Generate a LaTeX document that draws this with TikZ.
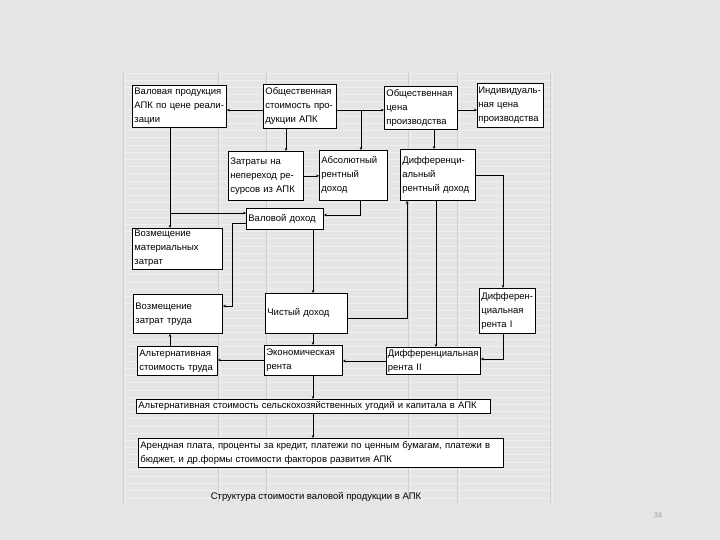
\documentclass[tikz,border=0pt]{standalone}
\usepackage{fontspec}
\setmainfont{Liberation Sans}
\definecolor{pagegray}{HTML}{E5E5E5}
\definecolor{gridlight}{HTML}{EFEFEF}
\definecolor{griddark}{HTML}{CFCFCF}
\definecolor{numgray}{HTML}{8C8C8C}
\usetikzlibrary{arrows.meta, positioning, calc}
\tikzset{
	cellbox/.style={draw, fill=white, line width=0.8pt, anchor=north west, inner sep=2pt,
		align=left, font=\fontsize{9.5}{14}\selectfont}
}
\tikzset{
	link/.style={line width=0.6pt, -{Stealth[length=3pt,width=2.6pt]}}
}

\begin{document}
\begin{tikzpicture}[x=1pt, y=-1pt]
      \useasboundingbox (0,0) rectangle (720,540);
      % page and spreadsheet grid
      \fill[pagegray] (0,0) rectangle (720,540);
      \foreach \i in {0,...,59} {
        \draw[gridlight, line width=0.6pt] (123,{73+7.2*\i}) -- (552,{73+7.2*\i});
      }
      \foreach \x in {123,218,266,408,457,550} {
        \draw[griddark, line width=0.5pt] (\x,73) -- (\x,503);
        \draw[gridlight, line width=0.6pt] (\x+2,73) -- (\x+2,503);
      }
      % top row
      \node[cellbox, text width=90pt, minimum height=42pt] (vp) at (132,85) {Валовая продукция\\АПК по цене реали-\\зации};
      \node[cellbox, text width=69pt, minimum height=44pt] (os) at (263,84) {Общественная\\стоимость про-\\дукции АПК};
      \node[cellbox, text width=69pt, minimum height=43pt] (oc) at (384,86) {Общественная\\цена\\производства};
      \node[cellbox, text width=64pt, inner xsep=1pt, minimum height=44pt] (ic) at (477,83) {\mbox{Индивидуаль-}\\ная цена\\производства};
      % second row
      \node[cellbox, text width=71pt, minimum height=49pt] (zt) at (228,151) {Затраты на\\непереход ре-\\сурсов из АПК};
      \node[cellbox, text width=64pt, minimum height=50pt] (ab) at (319,150) {Абсолютный\\рентный\\доход};
      \node[cellbox, text width=71pt, minimum height=51pt] (dr) at (400,149) {Дифференци-\\альный\\рентный доход};
      \node[cellbox, text width=73pt, minimum height=21pt] (vd) at (246,208) {Валовой доход};
      % lower boxes
      \node[cellbox, text width=86pt, minimum height=39pt] (vm) at (132,228) {Возмещение\\материальных\\затрат};
      \node[cellbox, text width=85pt, minimum height=39pt] (vt) at (133,294) {Возмещение\\затрат труда};
      \node[cellbox, text width=78pt, minimum height=40pt] (cd) at (265,293) {Чистый доход};
      \node[cellbox, text width=52pt, minimum height=45pt] (d1) at (479,288) {Дифферен-\\циальная\\рента I};
      \node[cellbox, text width=76pt, minimum height=29pt] (at) at (137,346) {Альтернативная\\стоимость труда};
      \node[cellbox, text width=74pt, minimum height=30pt] (er) at (264,345) {Экономическая\\рента};
      \node[cellbox, text width=91pt, inner xsep=1.5pt, minimum height=26pt] (d2) at (386,347) {\mbox{Дифференциальная}\\рента II};
      % wide boxes and caption
      \node[cellbox, text width=350pt, minimum height=14pt, inner ysep=1pt] (au) at (136,399) {Альтернативная стоимость сельскохозяйственных угодий и капитала в АПК};
      \node[cellbox, text width=361pt, minimum height=29pt] (ap) at (138,438) {Арендная плата, проценты за кредит, платежи по ценным бумагам, платежи в\\бюджет, и др.формы стоимости факторов развития АПК};
      \node[font=\fontsize{9.5}{11}\selectfont] (title) at (316,497) {Структура стоимости валовой продукции в АПК};
      \node[numgray, font=\fontsize{6.5}{7}\selectfont] (pnum) at (658,515) {33};
      % top row links
      \coordinate (j1) at (361,110);
      \draw[link] (os.west |- 0,110) -- (vp.east |- 0,110);
      \draw[link] (os.east |- 0,110) -- (oc.west |- 0,110);
      \draw[link] (j1) -- (ab.north -| j1);
      \draw[link] (oc.east |- 0,110) -- (ic.west |- 0,110);
      \draw[link] (os.south -| 286,0) -- (zt.north -| 286,0);
      \draw[link] (oc.south -| 434,0) -- (dr.north -| 434,0);
      \draw[link] (zt.east) -- (ab.west |- zt.east);
      \draw[link] (dr.east |- 0,175) -| (d1.north -| 503,0);
      % gross income links
      \coordinate (j2) at (170,213);
      \draw[link] (vp.south -| j2) -- (vm.north -| j2);
      \draw[link] (j2) -- (vd.west |- j2);
      \draw[link] (vd.west |- 0,223) -- (232,223) -- (232,306) -- (vt.east |- 0,306);
      \draw[link] (ab.south -| 360,0) |- (vd.east |- 0,215);
      \draw[link] (vd.south -| 313,0) -- (cd.north -| 313,0);
      % rent links
      \draw[link] (cd.east |- 0,318) -| (dr.south -| 407,0);
      \draw[link] (dr.south -| 436,0) -- (d2.north -| 436,0);
      \draw[link] (d1.south -| 503,0) |- (d2.east |- 0,359);
      \draw[link] (d2.west |- 0,361) -- (er.east |- 0,361);
      \draw[link] (er.west |- 0,360) -- (at.east |- 0,360);
      \draw[link] (at.north -| 170,0) -- (vt.south -| 170,0);
      \draw[link] (cd.south -| 313,0) -- (er.north -| 313,0);
      \draw[link] (er.south -| 313,0) -- (au.north -| 313,0);
      \draw[link] (au.south -| 313,0) -- (ap.north -| 313,0);
    \end{tikzpicture}
\end{document}
